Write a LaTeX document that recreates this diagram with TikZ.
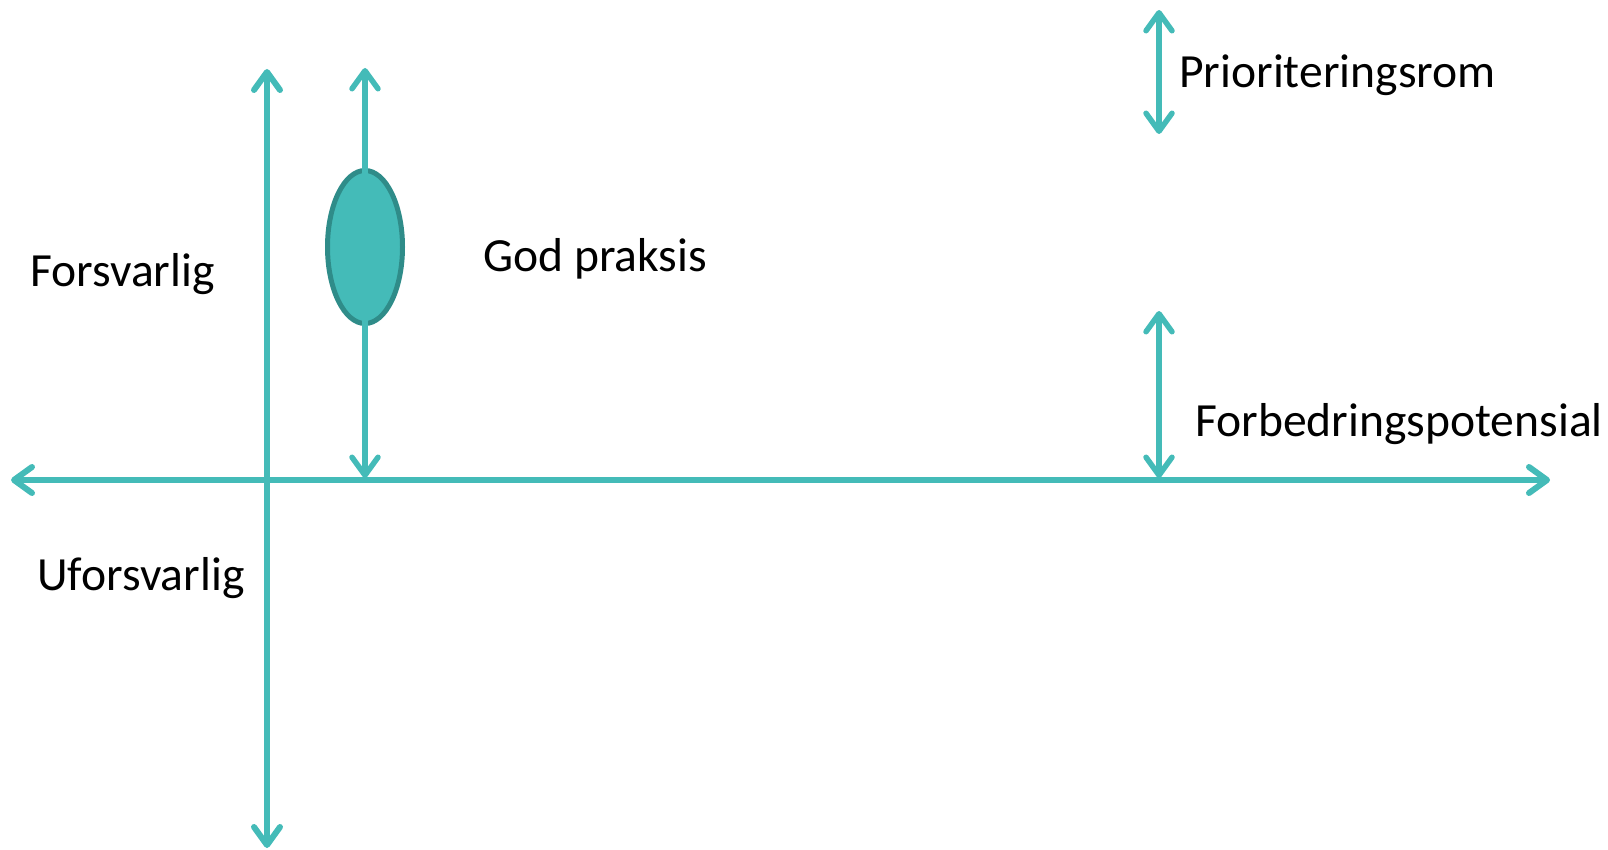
\documentclass[tikz,border=0pt]{standalone}
\usepackage{fontspec}
\setmainfont{Carlito}
\usetikzlibrary{arrows.meta,shapes.geometric}
\definecolor{teal1}{HTML}{44BBB8}
\definecolor{tealdark}{HTML}{2F8C89}
\tikzset{
  barb/.tip={Straight Barb[length=18pt,width=26pt,round]},
  axisline/.style={draw=teal1,line width=6pt,{barb}-{barb}},
  rangeline/.style={draw=teal1,line width=5.5pt,{barb}-{barb}},
  lbl/.style={font=\fontsize{47.6}{56}\selectfont,text=black,inner sep=0pt,anchor=base west},
  band/.style={ellipse,draw=tealdark,fill=teal1,line width=5pt,minimum width=75pt,minimum height=153pt,inner sep=0pt},
}
\begin{document}
\begin{tikzpicture}[x=1pt,y=-1pt]
  \useasboundingbox (0,0) rectangle (1608,850);
  % axes
  \coordinate (hl) at (11,480);
  \coordinate (hr) at (1550,480);
  \coordinate (vt) at (267,69);
  \coordinate (vb) at (267,848);
  \draw[axisline] (hl) -- (hr);
  \draw[axisline] (vt) -- (vb);
  % good practice band
  \node[band] (gp) at (365,247) {};
  \coordinate (gt) at (365,68);
  \coordinate (gb) at (365,478);
  \draw[rangeline] (gt) -- (gb);
  % ranges on the right
  \coordinate (rt) at (1159,10);
  \coordinate (rb) at (1159,134);
  \draw[rangeline] (rt) -- (rb);
  \coordinate (ft) at (1159,311);
  \coordinate (fb) at (1159,478);
  \draw[rangeline] (ft) -- (fb);
  % labels
  \node[lbl] (forsv) at (30,287) {Forsvarlig};
  \node[lbl] (uforsv) at (37,590) {Uforsvarlig};
  \node[lbl] (god) at (483,272) {God praksis};
  \node[lbl] (prio) at (1179,88) {Prioriteringsrom};
  \node[lbl] (forb) at (1195,436) {Forbedringspotensial};
\end{tikzpicture}
\end{document}
